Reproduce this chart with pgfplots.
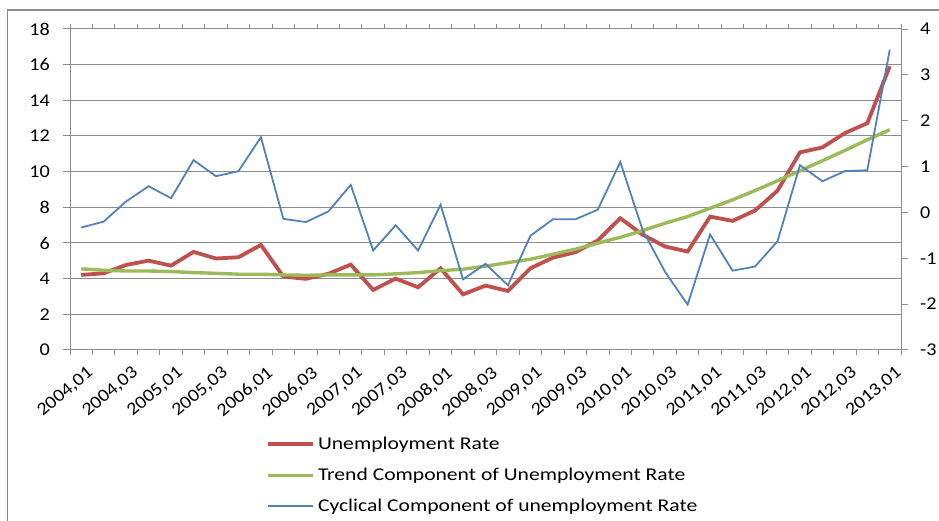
\documentclass[border=0pt]{standalone}
\usepackage{fontspec}
\setmainfont{Carlito}[FakeStretch=1.12]
\newfontfamily\legfont{Carlito}[FakeStretch=1.2]
\usepackage{pgfplots}
\pgfplotsset{compat=1.18}
\usepackage{pgfplotstable}
\definecolor{exred}{RGB}{192,80,77}
\definecolor{exgreen}{RGB}{155,187,89}
\definecolor{exblue}{RGB}{79,129,189}
\definecolor{gridgray}{RGB}{140,140,140}
\definecolor{framegray}{RGB}{140,140,140}

\pgfplotstableread{
idx unemp trend cyc
0 4.21 4.55 -0.33
1 4.30 4.47 -0.20
2 4.77 4.43 0.24
3 5.01 4.43 0.57
4 4.73 4.40 0.31
5 5.50 4.34 1.14
6 5.13 4.30 0.79
7 5.20 4.25 0.90
8 5.89 4.25 1.64
9 4.12 4.21 -0.14
10 3.99 4.19 -0.21
11 4.27 4.21 0.02
12 4.79 4.21 0.60
13 3.37 4.21 -0.83
14 4.00 4.27 -0.28
15 3.52 4.34 -0.83
16 4.58 4.45 0.17
17 3.12 4.53 -1.46
18 3.61 4.70 -1.12
19 3.31 4.90 -1.59
20 4.58 5.09 -0.51
21 5.18 5.37 -0.15
22 5.48 5.65 -0.15
23 6.14 5.99 0.06
24 7.39 6.32 1.10
25 6.46 6.70 -0.39
26 5.80 7.11 -1.30
27 5.52 7.48 -2.01
28 7.48 7.95 -0.48
29 7.24 8.42 -1.27
30 7.82 8.94 -1.18
31 8.93 9.49 -0.63
32 11.08 10.05 1.03
33 11.36 10.61 0.68
34 12.16 11.19 0.90
35 12.72 11.79 0.92
36 15.91 12.35 3.55
}\datatable

\begin{document}
\begin{tikzpicture}
\useasboundingbox (0pt,0pt) rectangle (939pt,521pt);
\draw[framegray, line width=1.6pt] (7.5pt,0pt) -- (7.5pt,511pt) -- (939pt,511pt);
\begin{axis}[
  at={(70pt,171pt)}, anchor=south west,
  scale only axis, width=831pt, height=321pt,
  xmin=-0.5, xmax=36.5, ymin=0, ymax=18,
  ytick={0,2,...,18},
  xtick={0,2,...,36},
  xticklabels={2004{,}01,2004{,}03,2005{,}01,2005{,}03,2006{,}01,2006{,}03,2007{,}01,2007{,}03,2008{,}01,2008{,}03,2009{,}01,2009{,}03,2010{,}01,2010{,}03,2011{,}01,2011{,}03,2012{,}01,2012{,}03,2013{,}01},
  xtick style={draw=none},
  extra x ticks={-0.5,0.5,...,36.5},
  extra x tick labels={},
  extra x tick style={xtick style={draw=gridgray, line width=1pt}, major tick length=5pt, tick align=outside, grid=none},
  ytick pos=left,
  ytick style={draw=gridgray, line width=1pt},
  major tick length=7pt,
  tick align=outside,
  ymajorgrids,
  grid style={gridgray, line width=1pt},
  axis line style={gridgray, line width=1pt},
  /pgf/number format/assume math mode=true,
  ticklabel style={font=\fontsize{18}{20}\selectfont},
  yticklabel style={inner sep=0pt, xshift=-13pt},
  xticklabel style={inner sep=0pt, xshift=5pt, yshift=-8pt, rotate=40, anchor=north east},
  legend style={at={(0.2359,-0.265)}, anchor=north west, draw=none, fill=none,
    inner sep=0pt, row sep=13pt, font=\legfont\fontsize{18}{20}\selectfont,
    nodes={inner sep=0pt, text height=14pt, text depth=4pt, anchor=west}},
  legend cell align=left,
  legend image code/.code={\draw[#1] (0pt,0pt) -- (45pt,0pt);},
]
\addplot[exred, line width=3.8pt] table[x=idx, y=unemp] {\datatable};
\addlegendentry{\hspace{3pt}Unemployment Rate}
\addplot[exgreen, line width=3.4pt] table[x=idx, y=trend] {\datatable};
\addlegendentry{\hspace{3pt}Trend Component of Unemployment Rate}
\addlegendimage{exblue, line width=1.8pt}
\addlegendentry{\hspace{3pt}Cyclical Component of unemployment Rate}
\end{axis}
\begin{axis}[
  at={(70pt,171pt)}, anchor=south west,
  scale only axis, width=831pt, height=321pt,
  xmin=-0.5, xmax=36.5, ymin=-3, ymax=4,
  ytick={-3,-2,...,4},
  axis x line=none,
  axis y line*=right,
  axis line style={gridgray, line width=1pt},
  ytick style={draw=gridgray, line width=1pt},
  major tick length=7pt,
  tick align=outside,
  /pgf/number format/assume math mode=true,
  ticklabel style={font=\fontsize{18}{20}\selectfont},
  yticklabel style={inner sep=0pt, xshift=12pt},
]
\addplot[exblue, line width=1.8pt] table[x=idx, y=cyc] {\datatable};
\end{axis}
\end{tikzpicture}
\end{document}
